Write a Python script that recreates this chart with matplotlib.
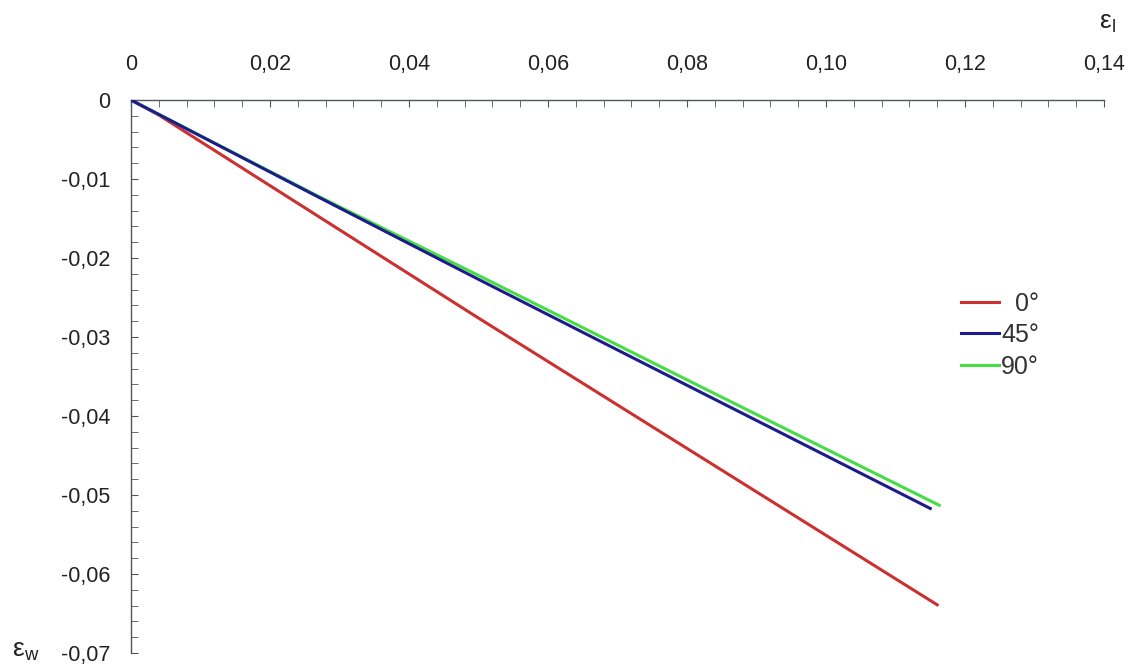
import numpy as np
import matplotlib.pyplot as plt
from matplotlib.ticker import MultipleLocator

plt.rcParams['font.family'] = ['Liberation Sans', 'DejaVu Sans']
plt.rcParams['mathtext.fontset'] = 'custom'
plt.rcParams['mathtext.rm'] = 'Liberation Sans'

# strain curves (eps_l, eps_w)
x_0 = [0, 0.004, 0.050, 0.116]
y_0 = [0, -0.0019, -0.0276, -0.0639]
x_45 = [0, 0.027, 0.050, 0.082, 0.115]
y_45 = [0, -0.0123, -0.0227, -0.0370, -0.0517]
x_90 = [0, 0.027, 0.050, 0.082, 0.1163]
y_90 = [0, -0.0122, -0.0222, -0.0363, -0.0513]

xticks = [0, 0.02, 0.04, 0.06, 0.08, 0.10, 0.12, 0.14]
xtick_labels = ["0", "0,02", "0,04", "0,06", "0,08", "0,10", "0,12", "0,14"]
yticks = [0, -0.01, -0.02, -0.03, -0.04, -0.05, -0.06, -0.07]
ytick_labels = ["0", "-0,01", "-0,02", "-0,03", "-0,04", "-0,05", "-0,06", "-0,07"]
labels = ["  0°", "45°", "90°"]

fig = plt.figure(figsize=(11.33, 6.69), dpi=100)
ax = fig.add_axes([0.1156, 0.0239, 0.9744 - 0.1156, 0.8505 - 0.0239])

ax.plot(x_0, y_0, color="#cc3030", lw=2.2, label=labels[0])
ax.plot(x_45, y_45, color="#1c1c8e", lw=2.2, label=labels[1], zorder=3)
ax.plot(x_90, y_90, color="#44dd44", lw=2.2, label=labels[2])

ax.set_xlim(0, 0.14)
ax.set_ylim(-0.07, 0)

ax.spines["bottom"].set_visible(False)
ax.spines["right"].set_visible(False)
for s in ("top", "left"):
    ax.spines[s].set_color("#505560")
    ax.spines[s].set_linewidth(1.0)

ax.xaxis.tick_top()
ax.set_xticks(xticks)
ax.set_xticklabels(xtick_labels)
ax.set_yticks(yticks)
ax.set_yticklabels(ytick_labels)
ax.xaxis.set_minor_locator(MultipleLocator(0.004))
ax.yaxis.set_minor_locator(MultipleLocator(0.002))
ax.tick_params(axis="both", which="both", direction="in", length=5,
               color="#505560", labelsize=15.5, labelcolor="#222222")
ax.tick_params(axis="x", which="major", pad=18)
ax.tick_params(axis="y", which="major", pad=15)

fig.text(1107 / 1133, 1 - 23 / 669, r"$\mathregular{ε_{l}}$", fontsize=19,
         ha="center", va="center", color="#222222")
fig.text(26 / 1133, 1 - 651 / 669, r"$\mathregular{ε_{w}}$", fontsize=19,
         ha="center", va="center", color="#222222")

leg = ax.legend(loc="upper left", bbox_to_anchor=(0.830, 0.694), frameon=False,
                fontsize=18, handlelength=1.5, handletextpad=0.1,
                labelspacing=0.3)
for t in leg.get_texts():
    t.set_color("#333333")

fig.savefig("out.png", dpi=100)
